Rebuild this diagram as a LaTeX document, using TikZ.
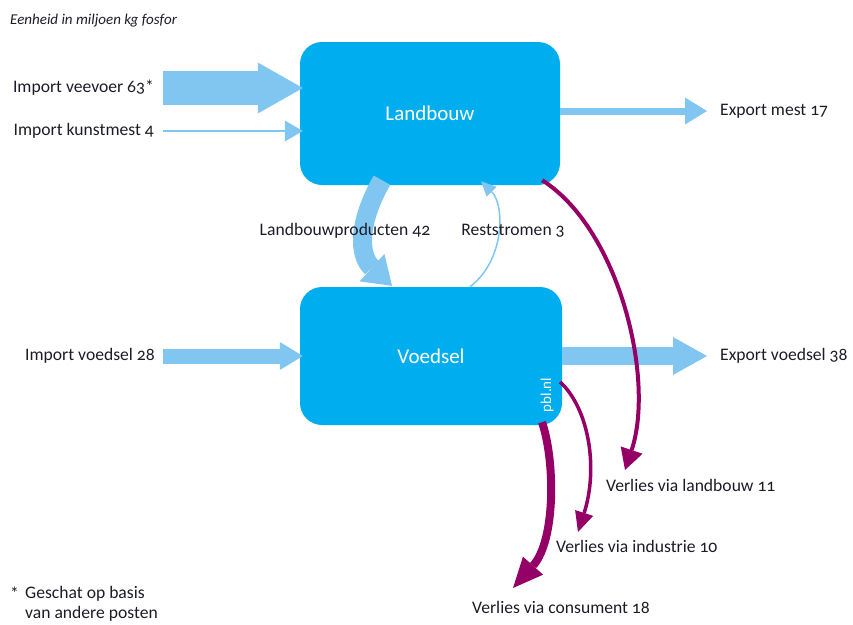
\documentclass[tikz,border=0pt]{standalone}
\usepackage{fontspec}
\setmainfont{Carlito}[Numbers=OldStyle]
\usetikzlibrary{arrows.meta,positioning}
\definecolor{pblcyan}{HTML}{00AEEF}
\definecolor{flowblue}{HTML}{80C6F1}
\definecolor{losspurple}{HTML}{950066}
\definecolor{labelink}{HTML}{1C1C28}
\tikzset{
  sectorbox/.style={
    fill=pblcyan,
    rounded corners=22pt,
    text=white,
    inner sep=0pt,
    font=\fontsize{21}{24}\selectfont
  },
  flowlabel/.style={text=labelink,inner sep=0pt,font=\fontsize{17.6}{20}\selectfont},
  % width of the band, then length and width of its head
  pflow/.style n args={3}{
    draw=flowblue,
    line width=#1,
    -{Triangle[length=#2,width=#3,line width=0pt]}
  },
  lossflow/.style n args={3}{
    draw=losspurple,
    line width=#1,
    -{Triangle[length=#2,width=#3,line width=0pt]}
  }
}

\begin{document}
\begin{tikzpicture}[x=1pt,y=-1pt]
  \useasboundingbox (0,0) rectangle (853,624);

  \node[flowlabel,anchor=base west,font=\fontsize{15}{17}\selectfont\itshape] (unit) at (10,24) {Eenheid in miljoen kg fosfor};

  % the two sectors
  \node[sectorbox,minimum width=260pt,minimum height=143pt] (landbouw) at (430,113.5) {Landbouw};
  \node[sectorbox,minimum width=262pt,minimum height=138pt] (voedsel) at (431,356) {Voedsel};
  \node[rotate=90,text=white,inner sep=0pt,font=\fontsize{15}{17}\selectfont] (pbl) at (547,395) {pbl.nl};

  % imports
  \node[flowlabel,anchor=east] (veevoer) at (154,88) {Import veevoer 63*};
  \node[flowlabel,anchor=east] (kunstmest) at (154,131) {Import kunstmest 4};
  \node[flowlabel,anchor=east] (impvoedsel) at (155,356) {Import voedsel 28};
  \draw[pflow={34pt}{45pt}{51pt}] ([xshift=9pt]veevoer.east) -- ([xshift=3pt]veevoer.east -| landbouw.west);
  \draw[pflow={2pt}{18pt}{21pt}] ([xshift=9pt]kunstmest.east) -- ([xshift=3pt]kunstmest.east -| landbouw.west);
  \draw[pflow={15pt}{23pt}{28pt}] ([xshift=8pt]impvoedsel.east) -- ([xshift=3pt]impvoedsel.east -| voedsel.west);

  % exports
  \node[flowlabel,anchor=west] (expmest) at (720,111) {Export mest 17};
  \node[flowlabel,anchor=west] (expvoedsel) at (720,356) {Export voedsel 38};
  \draw[pflow={7pt}{22pt}{27pt}] (landbouw.east |- expmest) -- ([xshift=-13pt]expmest.west);
  \draw[pflow={18pt}{34pt}{38pt}] (voedsel.east |- expvoedsel) -- ([xshift=-13pt]expvoedsel.west);

  % exchange between the sectors
  \draw[pflow={19pt}{27pt}{37pt}] ([xshift=-48pt,yshift=5pt]landbouw.south)
    .. controls (358,222) and (358,255) .. ([xshift=-39pt,yshift=1pt]voedsel.north);
  \draw[pflow={1.5pt}{15pt}{14pt}] ([xshift=39pt]voedsel.north)
    .. controls (505,260) and (505,205) .. ([xshift=51pt,yshift=4pt]landbouw.south);
  \node[flowlabel] (producten) at (345,231) {Landbouwproducten 42};
  \node[flowlabel] (reststromen) at (513,231) {Reststromen 3};

  % losses
  \node[flowlabel,anchor=north west] (lossland) at (606,479) {Verlies via landbouw 11};
  \node[flowlabel,anchor=north west] (lossind) at (556,540) {Verlies via industrie 10};
  \node[flowlabel,anchor=north west] (losscons) at (472,601) {Verlies via consument 18};
  \draw[lossflow={4pt}{21pt}{23pt}] ([xshift=-18pt,yshift=5pt]landbouw.south east)
    .. controls (620,230) and (655,380) .. ([xshift=19pt,yshift=9pt]lossland.north west);
  \draw[lossflow={3.5pt}{20pt}{19pt}] ([xshift=-2pt,yshift=-26pt]voedsel.east)
    .. controls (590,410) and (598,470) .. ([xshift=22pt,yshift=8pt]lossind.north west);
  \draw[lossflow={8pt}{30pt}{27pt}] ([xshift=111pt,yshift=3pt]voedsel.south)
    .. controls (555,460) and (556,540) .. ([xshift=41pt,yshift=13pt]losscons.north west);

  % footnote
  \node[flowlabel,anchor=base west] (star) at (10,599) {*};
  \node[flowlabel,anchor=north west,align=left,font=\fontsize{17.6}{20}\selectfont] (note) at (25,586) {Geschat op basis\\van andere posten};
\end{tikzpicture}
\end{document}
